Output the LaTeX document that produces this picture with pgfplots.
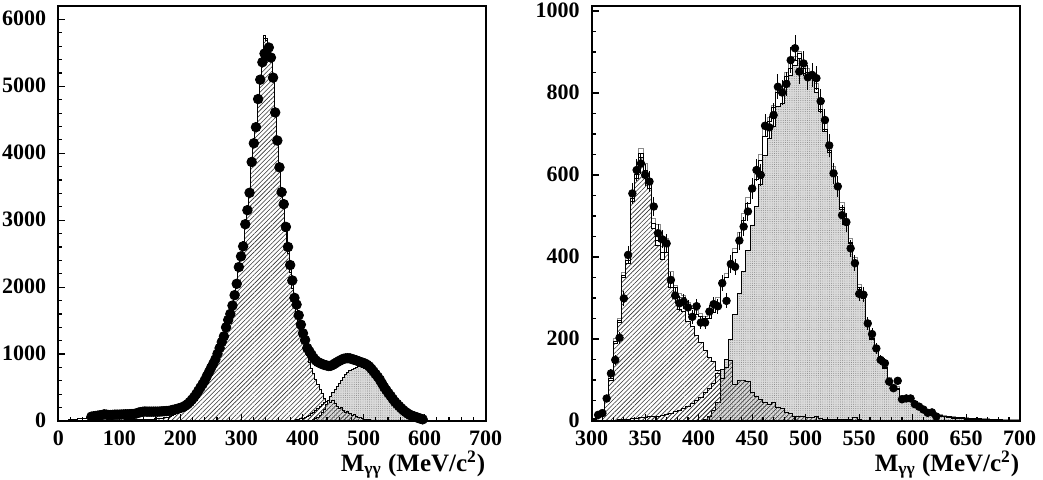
\documentclass[border=0pt]{standalone}
\usepackage{fontspec}
\setmainfont{Liberation Serif}
\usepackage{pgfplots}
\pgfplotsset{compat=1.18}
\usepackage{pgfplotstable}
\usetikzlibrary{patterns.meta}

% left panel: 3.5 MeV bins, left edges; A = hatched peak, B = dotted, C = small hatched, T = total
\pgfplotstableread{
e A B C T
0 0 0 0 0
3.5 0 0 0 3
7 1 0 0 6
10.5 1 0 0 10
14 2 0 0 14
17.5 2 0 0 18
21 3 0 0 22
24.5 3 0 0 26
28 4 0 0 30
31.5 4 0 0 33
35 5 0 0 36
38.5 5 0 0 40
42 6 0 0 44
45.5 6 0 0 50
49 7 0 0 56
52.5 7 0 0 62
56 8 0 0 68
59.5 8 0 0 74
63 9 0 0 80
66.5 9 0 0 86
70 10 0 0 92
73.5 10 0 0 98
77 11 0 0 96
80.5 11 0 0 92
84 12 0 0 90
87.5 12 0 0 92
91 13 0 0 94
94.5 13 0 0 95
98 14 0 0 96
101.5 14 0 0 97
105 15 0 0 98
108.5 16 0 0 100
112 17 0 0 101
115.5 18 0 0 103
119 19 0 0 105
122.5 20 0 0 108
126 21 0 0 115
129.5 22 0 0 124
133 23 0 0 132
136.5 24 0 0 138
140 25 0 0 142
143.5 26 0 0 141
147 27 0 0 140
150.5 28 0 0 140
154 30 0 0 140
157.5 32 0 0 140
161 35 0 0 141
164.5 38 0 0 142
168 42 0 0 144
171.5 47 0 0 146
175 53 0 0 148
178.5 60 0 0 151
182 70 0 0 157
185.5 82 0 0 165
189 96 0 0 173
192.5 112 0 0 181
196 130 0 0 191
199.5 150 0 0 202
203 172 0 0 215
206.5 200 0 0 235
210 235 0 0 258
213.5 275 0 0 288
217 315 0 0 322
220.5 358 0 0 362
224 405 0 0 408
227.5 455 0 0 458
231 505 0 0 508
234.5 557 0 0 560
238 612 0 0 615
241.5 674 0 0 678
245 736 0 0 740
248.5 800 0 0 805
252 862 0 0 868
255.5 928 0 0 935
259 1012 0 0 1020
262.5 1096 0 0 1105
266 1185 0 0 1195
269.5 1280 0 0 1290
273 1408 0 0 1420
276.5 1518 0 0 1530
280 1617 0 0 1630
283.5 1745 0 0 1760
287 1905 0 0 1920
290.5 2085 0 0 2100
294 2312 0 0 2330
297.5 2482 0 0 2500
301 2660 0 0 2680
304.5 2958 0 0 2980
308 3178 0 0 3200
311.5 3445 0 0 3470
315 3895 0 0 3920
318.5 4172 0 0 4200
322 4420 0 0 4450
325.5 4840 0 0 4870
329 5118 0 0 5150
332.5 5445 0 0 5480
336 5720 0 0 5760
339.5 5680 0 0 5720
343 5560 0 0 5600
346.5 5405 0 0 5450
350 5100 0 0 5150
353.5 4600 0 0 4650
357 4170 0 0 4230
360.5 3750 0 0 3820
364 3370 0 0 3450
367.5 3170 0 0 3260
371 2830 0 0 2930
374.5 2510 0 0 2620
378 2220 0 0 2350
381.5 1980 0 0 2120
385 1720 0 15 1860
388.5 1580 0 20 1750
392 1430 0 28 1600
395.5 1300 0 36 1450
399 1200 0 45 1320
402.5 1090 0 58 1220
406 980 0 72 1100
409.5 880 5 90 1040
413 790 10 110 985
416.5 705 20 135 930
420 625 35 160 890
423.5 550 60 190 860
427 475 90 215 840
430.5 405 130 245 825
434 340 180 270 812
437.5 285 240 290 805
441 235 300 300 798
444.5 190 360 280 800
448 150 420 310 815
451.5 118 470 260 835
455 90 520 220 858
458.5 68 565 190 878
462 50 610 200 898
465.5 37 650 160 915
469 27 690 130 925
472.5 19 720 140 930
476 13 750 110 928
479.5 9 772 90 918
483 6 790 95 908
486.5 4 805 70 898
490 3 810 55 888
493.5 2 808 50 875
497 1 800 40 865
500.5 1 788 30 852
504 0 770 25 835
507.5 0 748 20 810
511 0 720 15 775
514.5 0 688 12 735
518 0 652 10 695
521.5 0 612 8 655
525 0 570 6 610
528.5 0 525 5 555
532 0 478 4 500
535.5 0 432 3 455
539 0 388 2 410
542.5 0 345 2 370
546 0 302 0 325
549.5 0 262 0 285
553 0 225 0 250
556.5 0 190 0 218
560 0 158 0 186
563.5 0 130 0 157
567 0 106 0 132
570.5 0 85 0 110
574 0 67 0 90
577.5 0 53 0 78
581 0 41 0 66
584.5 0 32 0 56
588 0 24 0 44
591.5 0 18 0 34
595 0 13 0 25
598.5 0 10 0 18
602 0 7 0 14
605.5 0 5 0 11
609 0 4 0 9
612.5 0 3 0 8
616 0 2 0 7
619.5 0 2 0 6
623 0 1 0 5
626.5 0 1 0 5
630 0 0 0 4
633.5 0 0 0 4
637 0 0 0 4
640.5 0 0 0 3
644 0 0 0 3
647.5 0 0 0 3
651 0 0 0 3
654.5 0 0 0 2
658 0 0 0 2
661.5 0 0 0 2
665 0 0 0 2
668.5 0 0 0 2
672 0 0 0 2
675.5 0 0 0 1
679 0 0 0 1
682.5 0 0 0 1
686 0 0 0 1
689.5 0 0 0 1
693 0 0 0 1
696.5 0 0 0 1
700 0 0 0 0
}\lhist

\pgfplotstableread{
x y
54.25 65
57.75 70
61.25 75
64.75 80
68.25 85
71.75 90
75.25 100
78.75 95
82.25 90
85.75 90
89.25 92
92.75 95
96.25 95
99.75 95
103.25 97
106.75 98
110.25 100
113.75 100
117.25 102
120.75 104
124.25 106
127.75 112
131.25 125
134.75 132
138.25 138
141.75 142
145.25 140
148.75 140
152.25 140
155.75 140
159.25 140
162.75 140
166.25 142
169.75 144
173.25 146
176.75 148
180.25 150
183.75 156
187.25 165
190.75 172
194.25 180
197.75 190
201.25 200
204.75 210
208.25 230
211.75 252
215.25 282
218.75 318
222.25 355
225.75 400
229.25 450
232.75 500
236.25 550
239.75 605
243.25 670
246.75 730
250.25 795
253.75 855
257.25 920
260.75 1005
264.25 1090
267.75 1180
271.25 1265
274.75 1400
278.25 1510
281.75 1600
285.25 1725
288.75 1880
292.25 2050
295.75 2300
299.25 2460
302.75 2610
306.25 2940
309.75 3150
313.25 3410
316.75 3870
320.25 4150
323.75 4390
327.25 4810
330.75 5100
334.25 5360
337.75 5490
341.25 5470
344.75 5580
348.25 5430
351.75 5130
355.25 4610
358.75 4190
362.25 3790
365.75 3420
369.25 3240
372.75 2900
376.25 2600
379.75 2330
383.25 2100
386.75 1840
390.25 1740
393.75 1580
397.25 1440
400.75 1310
404.25 1210
407.75 1090
411.25 1040
414.75 990
418.25 940
421.75 905
425.25 880
428.75 865
432.25 850
435.75 838
439.25 830
442.75 822
446.25 825
449.75 840
453.25 860
456.75 880
460.25 898
463.75 915
467.25 930
470.75 936
474.25 938
477.75 936
481.25 925
484.75 915
488.25 905
491.75 893
495.25 880
498.75 870
502.25 858
505.75 840
509.25 815
512.75 780
516.25 740
519.75 700
523.25 660
526.75 615
530.25 560
533.75 505
537.25 460
540.75 415
544.25 375
547.75 330
551.25 288
554.75 255
558.25 222
561.75 190
565.25 160
568.75 135
572.25 112
575.75 92
579.25 80
582.75 68
586.25 58
589.75 45
593.25 35
596.75 25
}\ldata

% right panel: 4 MeV bins, left edges; G = second (grey) total
\pgfplotstableread{
e A B C T G
300 3 0 1 5 6
304 12 0 1 14 15
308 22 0 2 25 27
312 55 0 2 58 60
316 100 0 2 104 110
320 190 0 2 193 200
324 240 0 3 244 250
328 350 0 4 355 362
332 385 0 5 391 400
336 535 0 6 542 552
340 592 0 7 600 615
344 643 0 8 652 665
348 602 0 9 612 628
352 568 0 10 580 590
356 470 0 11 482 495
360 427 0 12 440 480
364 395 0 14 410 425
368 412 0 16 430 445
372 325 0 19 345 365
376 300 0 23 325 330
380 272 0 26 300 310
384 267 0 31 300 305
388 243 0 36 280 290
392 230 0 43 275 282
396 208 0 50 260 270
400 192 2 58 254 262
404 172 5 70 250 255
408 155 12 80 250 260
412 145 25 92 264 275
416 124 45 115 285 300
420 100 125 105 330 345
424 80 150 130 350 360
428 60 200 148 378 390
432 45 260 88 410 420
436 35 310 100 445 460
440 25 365 100 490 505
444 18 415 97 530 545
448 12 478 70 560 575
452 8 522 60 590 600
456 5 578 52 635 650
460 3 647 45 695 710
464 2 688 40 730 740
468 1 719 45 765 770
472 0 768 32 800 815
476 0 775 30 805 812
480 0 820 20 840 850
484 0 842 18 860 872
488 0 868 12 880 888
492 0 885 10 895 900
496 0 848 12 860 875
500 0 842 8 850 860
504 0 837 8 845 850
508 0 800 10 810 822
512 0 754 6 760 775
516 0 705 5 710 725
520 0 655 5 660 672
524 0 606 4 610 620
528 0 566 4 570 580
532 0 517 3 520 532
536 0 482 3 485 495
540 0 432 3 435 445
544 0 382 8 390 398
548 0 322 3 325 332
552 0 298 2 300 310
556 0 233 2 235 245
560 0 198 2 200 208
564 0 173 2 175 182
568 0 143 2 145 152
572 0 128 2 130 136
576 0 98 2 100 106
580 0 83 2 85 90
584 0 78 2 80 84
588 0 56 2 58 62
592 0 53 2 55 58
596 0 48 2 50 53
600 0 40 2 42 45
604 0 33 2 35 38
608 0 26 2 28 30
612 0 22 2 24 26
616 0 18 2 20 22
620 0 14 2 16 18
624 0 12 2 14 15
628 0 10 2 12 13
632 0 8 2 10 11
636 0 7 2 9 10
640 0 6 2 8 9
644 0 6 2 8 9
648 0 5 2 7 8
652 0 4 2 6 7
656 0 3 2 5 6
660 0 3 2 5 6
664 0 2 2 4 5
668 0 2 2 4 5
672 0 1 2 3 4
676 0 1 2 3 4
680 0 1 2 3 4
684 0 0 2 2 3
688 0 0 2 2 3
692 0 0 2 2 3
696 0 0 2 2 3
700 0 0 0 0 0
}\rhist

\pgfplotstableread{
x y err
306 15 5
310 19 5
314 55 8
318 116 12
322 149 13
326 203 15
330 299 18
334 405 21
338 555 25
342 612 26
346 628 26
350 600 26
354 584 25
358 523 24
362 458 22
366 443 22
370 433 22
374 344 20
378 306 18
382 287 18
386 291 18
390 277 18
394 254 17
398 280 18
402 240 16
406 240 16
410 267 17
414 285 18
418 280 18
422 336 19
426 293 18
430 383 21
434 376 20
438 440 22
442 474 23
446 511 24
450 567 25
454 612 26
458 600 26
462 720 28
466 716 28
470 746 29
474 815 30
478 801 30
482 822 30
486 880 31
490 909 32
494 852 31
498 872 31
502 838 30
506 844 30
510 836 30
514 780 29
518 734 28
522 672 27
526 604 26
530 572 25
534 502 24
538 485 23
542 421 21
546 385 20
550 310 18
554 308 18
558 238 16
562 212 15
566 177 14
570 149 13
574 141 12
578 96 10
582 80 9
586 98 10
590 53 8
594 55 8
598 55 8
602 41 7
606 35 6
610 28 6
614 20 5
618 21 5
622 11 4
}\rdata

\tikzset{
  hatch/.style={pattern={Lines[angle=45,distance=1.6pt,line width=0.3pt]}, pattern color=black!80},
  dotfill/.style={fill=black!14, postaction={pattern={Dots[distance=1.1pt,radius=0.22pt]}, pattern color=black!55}},
}

\pgfplotsset{
  physax/.style={
    scale only axis, width=214pt, height=207.5pt, anchor=south west,
    axis on top, axis line style={line width=0.8pt},
    tick align=inside, tick pos=left,
    major tick length=3.5pt, minor tick length=2pt,
    every tick/.style={black, line width=0.6pt},
    ticklabel style={font=\bfseries\fontsize{11}{13}\selectfont},
    /pgf/number format/assume math mode=true,
    /pgf/number format/1000 sep={},
    scaled ticks=false,
    ymin=0,
    xlabel={M\textsubscript{γγ} (MeV/c\textsuperscript{2})},
    xlabel style={font=\bfseries\fontsize{12.5}{14}\selectfont, inner sep=0pt,
      at={(axis description cs:1,0)}, anchor=base east, yshift=-25pt},
    yticklabel style={xshift=-2.5pt, yshift=0.5pt},
    xticklabel style={yshift=-1.5pt},
  },
  hist/.style={const plot, line width=0.45pt, draw=black},
}

\begin{document}
\begin{tikzpicture}
\useasboundingbox (-29.15pt,-29pt) rectangle (492.35pt,210.5pt);

\begin{axis}[physax, at={(0pt,0pt)}, width=213.7pt,
    xmin=0, xmax=700, ymax=6200,
    xtick={0,100,...,700}, ytick={0,1000,...,6000},
    minor x tick num=4, minor y tick num=4]
  \addplot[hist, hatch] table[x=e, y=A] {\lhist} \closedcycle;
  \addplot[hist, dotfill] table[x=e, y=B] {\lhist} \closedcycle;
  \addplot[hist, hatch] table[x=e, y=C] {\lhist} \closedcycle;
  \addplot[const plot, black, line width=0.5pt] table[x=e, y=T] {\lhist};
  \addplot[only marks, mark=*, mark size=2.4pt, black] table[x=x, y=y] {\ldata};
\end{axis}

\begin{axis}[physax, at={(266.7pt,0pt)},
    xmin=300, xmax=700, ymax=1012,
    xtick={300,350,...,700}, ytick={0,200,...,1000},
    minor x tick num=4, minor y tick num=3]
  \addplot[hist, hatch] table[x=e, y=A] {\rhist} \closedcycle;
  \addplot[hist, dotfill] table[x=e, y=B] {\rhist} \closedcycle;
  \addplot[hist, hatch] table[x=e, y=C] {\rhist} \closedcycle;
  \addplot[const plot, black!45, line width=0.5pt] table[x=e, y=G] {\rhist};
  \addplot[const plot, black, line width=0.5pt] table[x=e, y=T] {\rhist};
  \addplot[only marks, mark=*, mark size=1.9pt, black,
    error bars/.cd, y dir=both, y explicit, error mark=none,
    error bar style={line width=0.5pt, black}]
    table[x=x, y=y, y error=err] {\rdata};
\end{axis}
\end{tikzpicture}
\end{document}
